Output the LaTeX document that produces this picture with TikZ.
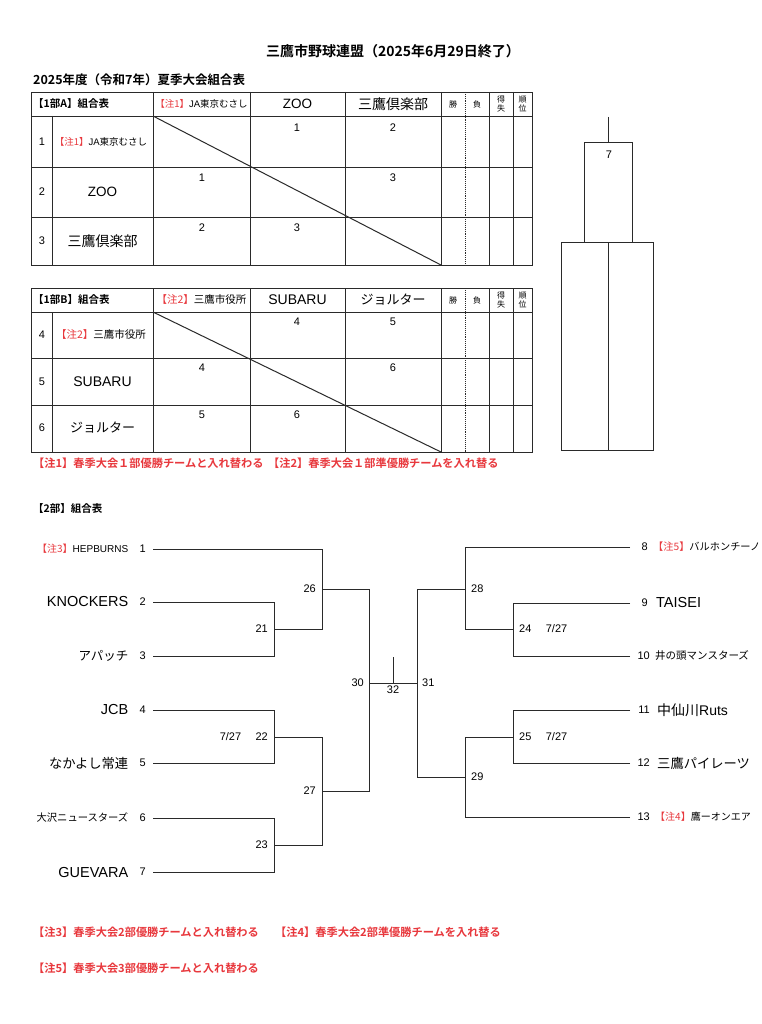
\documentclass[tikz,border=0pt]{standalone}
\usepackage{fontspec}
\setmainfont{Liberation Sans}
\newfontfamily\jp{Noto Sans CJK JP}
\newfontfamily\jpb{Noto Sans CJK JP Bold}
\usepackage{tikz}
\usetikzlibrary{positioning}
\definecolor{notered}{HTML}{E8383D}
\definecolor{inkgray}{HTML}{2A2A2A}
\newcommand\pts[1]{\fontsize{#1}{#1}\selectfont}
\newcommand\chu[1]{{\color{notered}\jp【注#1】}}
\tikzset{
  tabline/.style={draw=inkgray,line width=0.9pt},
  bktline/.style={draw=inkgray,line width=1pt},
  titletext/.style={font=\jpb\pts{14},inner sep=0pt},
  tabtitle/.style={font=\jpb\pts{10.5},anchor=west,inner sep=0pt},
  teamjp/.style={font={\jp\pts{#1}},inner sep=0pt},
  teamjp/.default=13,
  teamlat/.style={font={\pts{#1}},inner sep=0pt},
  teamlat/.default=14,
  digit/.style={font=\pts{11},inner sep=0pt},
  matchnum/.style={font=\pts{11},inner sep=0pt},
  smallhd/.style={font=\jp\fontsize{8}{9}\selectfont,inner sep=0pt,align=center},
  notetext/.style={font=\jpb\pts{11.2},text=notered,anchor=west,inner sep=0pt}
}

\begin{document}
\begin{tikzpicture}[x=1pt,y=-1pt]
  \fill[white] (0,0) rectangle (761,1024);
  \useasboundingbox (0,0) rectangle (761,1024);

  % headings
  \node[titletext] (title) at (393,51) {三鷹市野球連盟（2025年6月29日終了）};
  \node[titletext,font=\jpb\pts{12.5},anchor=west] (subtitle) at (33,80) {2025年度（令和7年）夏季大会組合表};

  % league 1A
  \draw[tabline] (31,92) rectangle (532,265);
  \foreach \y in {116,167,217} \draw[tabline] (31,\y) -- (532,\y);
  \draw[tabline] (52,116) -- (52,265);
  \foreach \x in {153,250,345,441,489,513} \draw[tabline] (\x,92) -- (\x,265);
  \draw[tabline,densely dotted] (465,92) -- (465,265);
  \draw[tabline,line width=1pt] (153,116) -- (441,265);
  \node[tabtitle] (hdA) at (33,104) {【1部A】組合表};
  \node[teamlat=9.5] (hdA1) at (201.5,104) {\chu{1}JA{\jp 東京むさし}};
  \node[teamlat=13.5] (hdA2) at (297.5,104) {ZOO};
  \node[teamjp=14] (hdA3) at (393,104) {三鷹倶楽部};
  \node[smallhd] (hdAw) at (453,104) {勝};
  \node[smallhd] (hdAl) at (477,104) {負};
  \node[smallhd] (hdAp) at (501,104) {得\\失};
  \node[smallhd] (hdAr) at (522.5,104) {順\\位};
  \node[digit] (rA1) at (42,141.5) {1};
  \node[digit] (rA2) at (42,192) {2};
  \node[digit] (rA3) at (42,241) {3};
  \node[teamlat=9.5] (tA1) at (101,141.5) {\chu{1}JA{\jp 東京むさし}};
  \node[teamlat=13.5] (tA2) at (102.5,192) {ZOO};
  \node[teamjp=14] (tA3) at (102.5,241) {三鷹倶楽部};
  \node[digit] (gA12) at (297,128) {1};
  \node[digit] (gA13) at (393,128) {2};
  \node[digit] (gA21) at (202,178) {1};
  \node[digit] (gA23) at (393,178) {3};
  \node[digit] (gA31) at (202,228) {2};
  \node[digit] (gA32) at (297,228) {3};

  % league 1B
  \draw[tabline] (31,288) rectangle (532,452);
  \foreach \y in {312,358,405} \draw[tabline] (31,\y) -- (532,\y);
  \draw[tabline] (52,312) -- (52,452);
  \foreach \x in {153,250,345,441,489,513} \draw[tabline] (\x,288) -- (\x,452);
  \draw[tabline,densely dotted] (465,288) -- (465,452);
  \draw[tabline,line width=1pt] (153,312) -- (441,452);
  \node[tabtitle] (hdB) at (33,300) {【1部B】組合表};
  \node[teamjp=10.5] (hdB1) at (201.5,300) {\chu{2}三鷹市役所};
  \node[teamlat=14] (hdB2) at (297.5,300) {SUBARU};
  \node[teamjp=13] (hdB3) at (393,300) {ジョルター};
  \node[smallhd] (hdBw) at (453,300) {勝};
  \node[smallhd] (hdBl) at (477,300) {負};
  \node[smallhd] (hdBp) at (501,300) {得\\失};
  \node[smallhd] (hdBr) at (522.5,300) {順\\位};
  \node[digit] (rB4) at (42,335) {4};
  \node[digit] (rB5) at (42,381.5) {5};
  \node[digit] (rB6) at (42,428) {6};
  \node[teamjp=10.5] (tB4) at (101,335) {\chu{2}三鷹市役所};
  \node[teamlat=14] (tB5) at (102.5,381.5) {SUBARU};
  \node[teamjp=13] (tB6) at (102.5,428) {ジョルター};
  \node[digit] (gB45) at (297,322) {4};
  \node[digit] (gB46) at (393,322) {5};
  \node[digit] (gB54) at (202,368) {4};
  \node[digit] (gB56) at (393,368) {6};
  \node[digit] (gB64) at (202,415) {5};
  \node[digit] (gB65) at (297,415) {6};
  \node[notetext] (note1) at (33,463) {【注1】春季大会１部優勝チームと入れ替わる};
  \node[notetext] (note2) at (268,463) {【注2】春季大会１部準優勝チームを入れ替る};

  % final of league 1
  \coordinate (fintop) at (608,117);
  \coordinate (finbox) at (608,142);
  \draw[tabline] (fintop) -- (finbox);
  \draw[tabline] (584,142) rectangle (632,242);
  \node[digit] (fin7) at (609,155) {7};
  \draw[tabline] (561,242) rectangle (653,450);
  \draw[tabline] (608,242) -- (608,450);

  % league 2 bracket
  \node[tabtitle] (hdC) at (33,509) {【2部】組合表};
  \coordinate (s1) at (153,549);
  \coordinate (s2) at (153,602);
  \coordinate (s3) at (153,656);
  \coordinate (s4) at (153,710);
  \coordinate (s5) at (153,763);
  \coordinate (s6) at (153,818);
  \coordinate (s7) at (153,872);
  \coordinate (s8) at (630,547);
  \coordinate (s9) at (630,603);
  \coordinate (s10) at (630,656);
  \coordinate (s11) at (630,710);
  \coordinate (s12) at (630,763);
  \coordinate (s13) at (630,817);
  \coordinate (j21) at (274,629);
  \coordinate (j22) at (274,737);
  \coordinate (j23) at (274,845);
  \coordinate (j26) at (322,589);
  \coordinate (j27) at (322,791);
  \coordinate (j30) at (369,683);
  \coordinate (j32) at (393,683);
  \coordinate (j31) at (417,683);
  \coordinate (j24) at (513,629);
  \coordinate (j25) at (513,737);
  \coordinate (j28) at (465,589);
  \coordinate (j29) at (465,777);
  \coordinate (top32) at (393,657);

  \draw[bktline] (s2) -| (j21);
  \draw[bktline] (s3) -| (j21);
  \draw[bktline] (s4) -| (j22);
  \draw[bktline] (s5) -| (j22);
  \draw[bktline] (s6) -| (j23);
  \draw[bktline] (s7) -| (j23);
  \draw[bktline] (s1) -| (j26);
  \draw[bktline] (j21) -| (j26);
  \draw[bktline] (j22) -| (j27);
  \draw[bktline] (j23) -| (j27);
  \draw[bktline] (j26) -| (j30);
  \draw[bktline] (j27) -| (j30);
  \draw[bktline] (j30) -- (j31);
  \draw[bktline] (j32) -- (top32);
  \draw[bktline] (s9) -| (j24);
  \draw[bktline] (s10) -| (j24);
  \draw[bktline] (s11) -| (j25);
  \draw[bktline] (s12) -| (j25);
  \draw[bktline] (s8) -| (j28);
  \draw[bktline] (j24) -| (j28);
  \draw[bktline] (j25) -| (j29);
  \draw[bktline] (s13) -| (j29);
  \draw[bktline] (j28) -| (j31);
  \draw[bktline] (j29) -| (j31);

  % left entries
  \node[digit,anchor=east] (n1) at (146,549) {1};
  \node[digit,anchor=east] (n2) at (146,602) {2};
  \node[digit,anchor=east] (n3) at (146,656) {3};
  \node[digit,anchor=east] (n4) at (146,710) {4};
  \node[digit,anchor=east] (n5) at (146,763) {5};
  \node[digit,anchor=east] (n6) at (146,818) {6};
  \node[digit,anchor=east] (n7) at (146,872) {7};
  \node[teamlat=10,left=11pt of n1] (e1) {\chu{3}HEPBURNS};
  \node[teamlat=14.5,left=11pt of n2] (e2) {KNOCKERS};
  \node[teamjp=12.5,left=11pt of n3] (e3) {アパッチ};
  \node[teamlat=14.5,left=11pt of n4] (e4) {JCB};
  \node[teamjp=13.3,left=11pt of n5] (e5) {なかよし常連};
  \node[teamjp=10.3,left=11pt of n6] (e6) {大沢ニュースターズ};
  \node[teamlat=14.5,left=11pt of n7] (e7) {GUEVARA};

  % right entries
  \node[digit,anchor=east] (n8) at (648,547) {8};
  \node[digit,anchor=east] (n9) at (648,603) {9};
  \node[digit,anchor=east] (n10) at (650,656) {10};
  \node[digit,anchor=east] (n11) at (650,710) {11};
  \node[digit,anchor=east] (n12) at (650,763) {12};
  \node[digit,anchor=east] (n13) at (650,817) {13};
  \node[teamjp=10.2,right=5pt of n8] (e8) {\chu{5}バルホンチーノ};
  \node[teamlat=14.5,right=8pt of n9] (e9) {TAISEI};
  \node[teamjp=10.5,right=5pt of n10] (e10) {井の頭マンスターズ};
  \node[teamlat=14,right=7pt of n11] (e11) {{\jp 中仙川}Ruts};
  \node[teamjp=13.3,right=7pt of n12] (e12) {三鷹パイレーツ};
  \node[teamjp=10,right=5pt of n13] (e13) {\chu{4}鷹ーオンエア};

  % match numbers
  \node[matchnum,anchor=east,xshift=-6pt] (m21) at (j21) {21};
  \node[matchnum,anchor=east,xshift=-6pt] (m22) at (j22) {22};
  \node[matchnum,left=14pt of m22] (d22) {7/27};
  \node[matchnum,anchor=east,xshift=-6pt] (m23) at (j23) {23};
  \node[matchnum,anchor=east,xshift=-6pt] (m26) at (j26) {26};
  \node[matchnum,anchor=east,xshift=-6pt] (m27) at (j27) {27};
  \node[matchnum,anchor=east,xshift=-5pt] (m30) at (j30) {30};
  \node[matchnum,anchor=north,yshift=-3pt] (m32) at (j32) {32};
  \node[matchnum,anchor=west,xshift=5pt] (m31) at (j31) {31};
  \node[matchnum,anchor=west,xshift=6pt] (m24) at (j24) {24};
  \node[matchnum,right=14pt of m24] (d24) {7/27};
  \node[matchnum,anchor=west,xshift=6pt] (m25) at (j25) {25};
  \node[matchnum,right=14pt of m25] (d25) {7/27};
  \node[matchnum,anchor=west,xshift=6pt] (m28) at (j28) {28};
  \node[matchnum,anchor=west,xshift=6pt] (m29) at (j29) {29};

  % notes
  \node[notetext] (note3) at (33,932) {【注3】春季大会2部優勝チームと入れ替わる};
  \node[notetext] (note4) at (275,932) {【注4】春季大会2部準優勝チームを入れ替る};
  \node[notetext] (note5) at (33,968) {【注5】春季大会3部優勝チームと入れ替わる};
\end{tikzpicture}
\end{document}
